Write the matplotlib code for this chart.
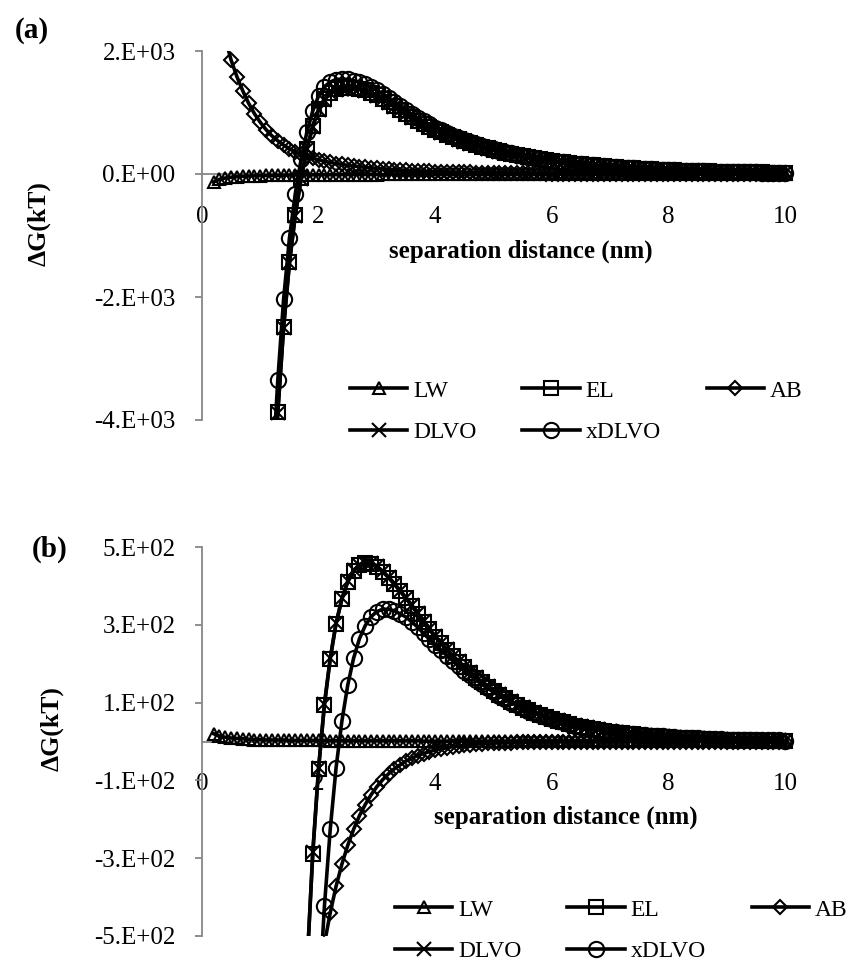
"""
Gibbs free energy of interaction (xDLVO) against separation distance, two panels.
"""

import matplotlib
matplotlib.use('Agg')
import matplotlib.pyplot as plt

plt.rcParams['font.family'] = ['Liberation Serif', 'DejaVu Serif']

W, H = 857, 965
AXIS_GRAY = '#868686'

# separation distance (nm), shared by every series
distance = [0.2, 0.3, 0.4, 0.5, 0.6, 0.7, 0.8, 0.9, 1.0,
            1.1, 1.2, 1.3, 1.4, 1.5, 1.6, 1.7, 1.8, 1.9, 2.0,
            2.1, 2.2, 2.3, 2.4, 2.5, 2.6, 2.7, 2.8, 2.9, 3.0,
            3.1, 3.2, 3.3, 3.4, 3.5, 3.6, 3.7, 3.8, 3.9, 4.0,
            4.1, 4.2, 4.3, 4.4, 4.5, 4.6, 4.7, 4.8, 4.9, 5.0,
            5.1, 5.2, 5.3, 5.4, 5.5, 5.6, 5.7, 5.8, 5.9, 6.0,
            6.1, 6.2, 6.3, 6.4, 6.5, 6.6, 6.7, 6.8, 6.9, 7.0,
            7.1, 7.2, 7.3, 7.4, 7.5, 7.6, 7.7, 7.8, 7.9, 8.0,
            8.1, 8.2, 8.3, 8.4, 8.5, 8.6, 8.7, 8.8, 8.9, 9.0,
            9.1, 9.2, 9.3, 9.4, 9.5, 9.6, 9.7, 9.8, 9.9, 10.0]

# ---- panel (a), kT ----
lw_a = [-130, -87, -65, -52, -43, -37, -33, -29, -26,
        -24, -22, -20, -19, -17, -16, -15, -14, -14, -13,
        -12, -12, -11, -11, -10, -10, -10, -9, -9, -9,
        -8, -8, -8, -8, -7, -7, -7, -7, -7, -7,
        -6, -6, -6, -6, -6, -6, -6, -5, -5, -5,
        -5, -5, -5, -5, -5, -5, -5, -4, -4, -4,
        -4, -4, -4, -4, -4, -4, -4, -4, -4, -4,
        -4, -4, -4, -4, -3, -3, -3, -3, -3, -3,
        -3, -3, -3, -3, -3, -3, -3, -3, -3, -3,
        -3, -3, -3, -3, -3, -3, -3, -3, -3, -3]
el_a = [-99870, -69910, -51935, -39950, -30960, -23965, -18465, -13970, -10475,
        -7776, -5578, -3870, -2481, -1433, -664, -65, 414, 784, 1053,
        1222, 1322, 1376, 1401, 1405, 1400, 1385, 1359, 1324, 1279,
        1223, 1163, 1103, 1043, 982, 924, 869, 818, 769, 723,
        679, 639, 601, 565, 532, 500, 471, 442, 415, 391,
        368, 346, 325, 306, 288, 271, 255, 239, 225, 212,
        199, 188, 177, 166, 157, 147, 139, 131, 123, 116,
        109, 103, 97, 91, 85, 80, 76, 71, 67, 63,
        60, 56, 53, 50, 47, 45, 42, 40, 38, 36,
        34, 32, 30, 28, 27, 25, 24, 23, 22, 20]
ab_a = [3300, 2700, 2200, 1850, 1580, 1350, 1150, 980, 840,
        720, 620, 540, 470, 410, 360, 320, 285, 255, 230,
        208, 188, 170, 155, 142, 130, 119, 109, 100, 92,
        85, 78, 72, 66, 61, 56, 52, 48, 44, 40,
        37, 34, 31, 29, 27, 25, 23, 21, 19, 18,
        16, 15, 14, 13, 12, 11, 10, 9, 8, 8,
        7, 7, 6, 6, 5, 5, 5, 4, 4, 4,
        3, 3, 3, 3, 3, 2, 2, 2, 2, 2,
        2, 2, 1, 1, 1, 1, 1, 1, 1, 1,
        1, 1, 1, 1, 1, 1, 0, 0, 0, 0]
dlvo_a = [-100000, -70000, -52000, -40000, -31000, -24000, -18500, -14000, -10500,
          -7800, -5600, -3890, -2500, -1450, -680, -80, 400, 770, 1040,
          1210, 1310, 1365, 1390, 1395, 1390, 1375, 1350, 1315, 1270,
          1215, 1155, 1095, 1035, 975, 917, 862, 811, 762, 716,
          673, 633, 595, 559, 526, 494, 465, 437, 410, 386,
          363, 341, 320, 301, 283, 266, 250, 235, 221, 208,
          195, 184, 173, 162, 153, 143, 135, 127, 119, 112,
          105, 99, 93, 87, 82, 77, 73, 68, 64, 60,
          57, 53, 50, 47, 44, 42, 39, 37, 35, 33,
          31, 29, 27, 25, 24, 22, 21, 20, 19, 17]
xdlvo_a = [-96700, -67300, -49800, -38150, -29420, -22650, -17350, -13020, -9660,
           -7080, -4980, -3350, -2030, -1040, -320, 240, 685, 1025, 1270,
           1418, 1498, 1535, 1545, 1537, 1520, 1494, 1459, 1415, 1362,
           1300, 1233, 1167, 1101, 1036, 973, 914, 859, 806, 756,
           710, 667, 626, 588, 553, 519, 488, 458, 429, 404,
           379, 356, 334, 314, 295, 277, 260, 244, 229, 216,
           202, 191, 179, 168, 158, 148, 140, 131, 123, 116,
           108, 102, 96, 90, 85, 79, 75, 70, 66, 62,
           59, 55, 51, 48, 45, 43, 40, 38, 36, 34,
           32, 30, 28, 26, 25, 23, 21, 20, 19, 17]

# ---- panel (b), kT ----
lw_b = [20, 14, 11, 9, 8, 7, 6, 5, 5,
        4, 4, 4, 4, 3, 3, 3, 3, 3, 3,
        3, 2, 2, 2, 2, 2, 2, 2, 2, 2,
        2, 2, 2, 2, 2, 2, 2, 1, 1, 1,
        1, 1, 1, 1, 1, 1, 1, 1, 1, 1,
        1, 1, 1, 1, 1, 1, 1, 1, 1, 1,
        1, 1, 1, 1, 1, 1, 1, 1, 1, 1,
        1, 1, 1, 1, 1, 1, 1, 1, 1, 1,
        1, 1, 1, 1, 1, 1, 1, 1, 1, 1,
        1, 1, 1, 1, 1, 1, 1, 1, 1, 1]
el_b = [-60020, -43010, -33010, -26010, -20710, -16610, -13310, -10605, -8405,
        -6604, -5104, -3904, -2904, -2103, -1503, -1003, -583, -288, -70,
        94, 213, 303, 366, 410, 438, 453, 458, 456, 448,
        436, 421, 404, 386, 368, 348, 328, 308, 288, 269,
        252, 236, 220, 205, 191, 177, 164, 152, 141, 130,
        120, 111, 102, 94, 87, 80, 74, 68, 62, 57,
        53, 49, 45, 41, 38, 35, 32, 30, 27, 25,
        23, 21, 19, 18, 16, 15, 14, 13, 12, 11,
        10, 9, 8, 8, 7, 6, 6, 5, 5, 4,
        4, 4, 3, 3, 3, 2, 2, 2, 2, 1]
ab_b = [-12330, -10440, -8836, -7480, -6332, -5360, -4537, -3840, -3251,
        -2752, -2329, -1972, -1669, -1413, -1196, -1013, -857, -726, -614,
        -520, -440, -372, -315, -267, -226, -191, -162, -137, -116,
        -98, -83, -70, -60, -50, -43, -36, -31, -26, -22,
        -19, -16, -13, -11, -10, -8, -7, -6, -5, -4,
        -4, -3, -3, -2, -2, -2, -2, -1, -1, -1,
        -1, -1, -1, -1, -1, -1, -1, -1, -1, -1,
        0, 0, 0, 0, 0, 0, 0, 0, 0, 0,
        0, 0, 0, 0, 0, 0, 0, 0, 0, 0,
        0, 0, 0, 0, 0, 0, 0, 0, 0, 0]
dlvo_b = [-60000, -43000, -33000, -26000, -20700, -16600, -13300, -10600, -8400,
          -6600, -5100, -3900, -2900, -2100, -1500, -1000, -580, -285, -67,
          97, 215, 305, 368, 412, 440, 455, 460, 458, 450,
          438, 423, 406, 388, 370, 350, 330, 309, 289, 270,
          253, 237, 221, 206, 192, 178, 165, 153, 142, 131,
          121, 112, 103, 95, 88, 81, 75, 69, 63, 58,
          54, 50, 46, 42, 39, 36, 33, 31, 28, 26,
          24, 22, 20, 19, 17, 16, 15, 14, 13, 12,
          11, 10, 9, 9, 8, 7, 7, 6, 6, 5,
          5, 5, 4, 4, 4, 3, 3, 3, 3, 2]
xdlvo_b = [-72330, -53440, -41840, -33480, -27030, -21960, -17840, -14440, -11650,
           -9350, -7430, -5870, -4570, -3510, -2700, -2010, -1440, -1010, -680,
           -423, -225, -67, 53, 145, 214, 264, 298, 321, 334,
           340, 340, 336, 328, 320, 307, 294, 278, 263, 248,
           234, 221, 208, 195, 182, 170, 158, 147, 137, 127,
           117, 109, 100, 93, 86, 79, 73, 68, 62, 57,
           53, 49, 45, 41, 38, 35, 32, 30, 27, 25,
           24, 22, 20, 19, 17, 16, 15, 14, 13, 12,
           11, 10, 9, 9, 8, 7, 7, 6, 6, 5,
           5, 5, 4, 4, 4, 3, 3, 3, 3, 2]

series_names = ['LW', 'EL', 'AB', 'DLVO', 'xDLVO']
series_markers = ['^', 's', 'D', 'x', 'o']
marker_sizes = [9, 9.5, 7, 10, 11]

xticks = [0, 2, 4, 6, 8, 10]
yticks_a = [-4000, -2000, 0, 2000]
ylabels_a = ['-4.E+03', '-2.E+03', '0.E+00', '2.E+03']
yticks_b = [-500, -300, -100, 100, 300, 500]
ylabels_b = ['-5.E+02', '-3.E+02', '-1.E+02', '1.E+02', '3.E+02', '5.E+02']


def fx(px):
    return px / W


def fy(px):
    return 1 - px / H


def draw_panel(fig, box, series, yticks, ylabels, legend_xy):
    """
    Draw one panel in the Excel look: gray axes crossing at zero, open markers.
    """
    left, top, right, bottom = box
    ax = fig.add_axes([fx(left), fy(bottom), fx(right - left), (bottom - top) / H])
    lines = []
    for vals, name, mk, ms in zip(series, series_names, series_markers,
                                  marker_sizes):
        line, = ax.plot(distance, vals, color='black', lw=2.6, marker=mk,
                        ms=ms, mfc='none', mec='black', mew=1.5, label=name)
        lines.append(line)

    ax.set_xlim(0, 10.3)
    ax.set_ylim(yticks[0], yticks[-1])
    for side in ['top', 'right']:
        ax.spines[side].set_visible(False)
    ax.spines['left'].set_color(AXIS_GRAY)
    ax.spines['left'].set_linewidth(1.3)
    ax.spines['bottom'].set_position(('data', 0))
    ax.spines['bottom'].set_bounds(0, 10)
    ax.spines['bottom'].set_color(AXIS_GRAY)
    ax.spines['bottom'].set_linewidth(1.3)
    ax.spines['bottom'].set_zorder(0.5)

    ax.set_xticks(xticks)
    ax.set_yticks(yticks, labels=ylabels)
    ax.tick_params(axis='y', direction='out', length=5, width=1.3,
                   color=AXIS_GRAY, pad=14, labelsize=18)
    ax.tick_params(axis='x', direction='out', length=0, pad=23, labelsize=18)
    ax.set_facecolor('none')

    order = [0, 3, 1, 4, 2]
    fig.legend([lines[i] for i in order], [series_names[i] for i in order],
               loc='upper left', bbox_to_anchor=(fx(legend_xy[0]), fy(legend_xy[1])),
               ncol=3, frameon=False, fontsize=17, numpoints=1,
               handlelength=2.42, handletextpad=0.25, columnspacing=1.95,
               labelspacing=0.85, borderpad=0, borderaxespad=0)
    return ax


def main():
    fig = plt.figure(figsize=(W / 100, H / 100), dpi=100)
    right = 202 + 10.3 * 58.3

    draw_panel(fig, (202, 51, right, 420),
               [lw_a, el_a, ab_a, dlvo_a, xdlvo_a], yticks_a, ylabels_a,
               (350, 380))
    draw_panel(fig, (202, 547, right, 936),
               [lw_b, el_b, ab_b, dlvo_b, xdlvo_b], yticks_b, ylabels_b,
               (395, 899))

    bold = dict(fontweight='bold', ha='center', va='center')
    fig.text(fx(32), fy(30), '(a)', fontsize=21, **bold)
    fig.text(fx(50), fy(549), '(b)', fontsize=21, **bold)
    fig.text(fx(39), fy(224), 'ΔG(kT)', fontsize=18.5, rotation=90, **bold)
    fig.text(fx(52), fy(729), 'ΔG(kT)', fontsize=18.5, rotation=90, **bold)
    fig.text(fx(521), fy(251), 'separation distance (nm)', fontsize=18, **bold)
    fig.text(fx(566), fy(817), 'separation distance (nm)', fontsize=18, **bold)

    fig.savefig('out.png', dpi=100)
    plt.close('all')


if __name__ == '__main__':
    main()
